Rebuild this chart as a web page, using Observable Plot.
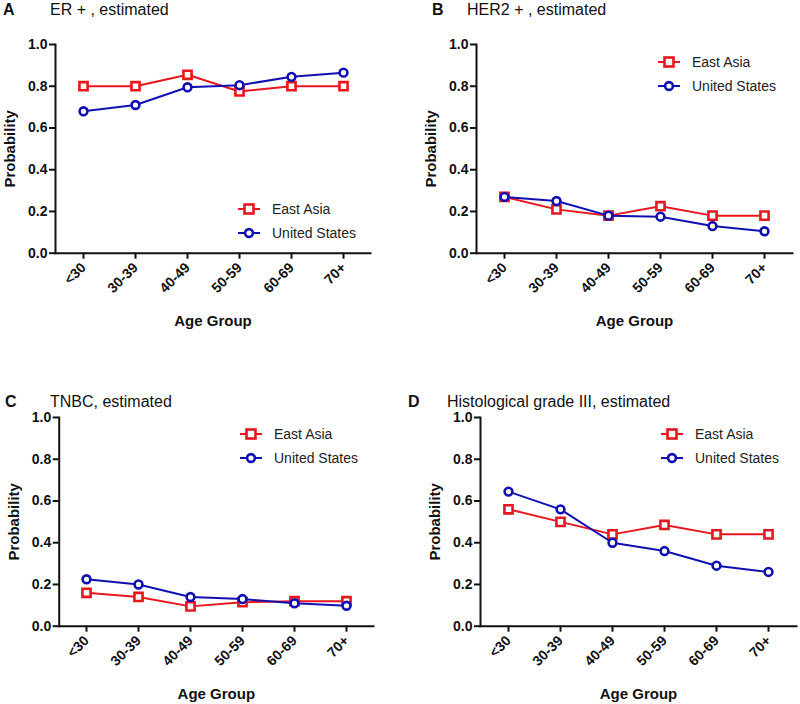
<!DOCTYPE html>
<html>
<head>
<meta charset="utf-8">
<script src="https://cdn.jsdelivr.net/npm/d3@7"></script>
<script src="https://cdn.jsdelivr.net/npm/@observablehq/plot@0.6"></script>
<style>
  html, body { margin:0; padding:0; background:#fff; }
  #fig { position:relative; width:800px; height:704px; overflow:hidden; font-family:"Liberation Sans", Arial, sans-serif; }
  .panel { position:absolute; }
  .title { position:absolute; font-size:16px; color:#111; white-space:nowrap; line-height:16px; }
  .title b { position:absolute; left:0; top:0; }
  .legend { position:absolute; font-size:14px; color:#222; }
  .legend .row { position:absolute; left:0; height:20px; white-space:nowrap; }
  .legend svg { position:absolute; left:0; top:0; }
  .legend span { position:absolute; top:2px; line-height:16px; }
  svg.panel text { font-size:14px !important; font-weight:bold !important; font-family:"Liberation Sans", Arial, sans-serif !important; }
  svg.panel g[aria-label="x-axis label"] text, svg.panel g[aria-label="y-axis label"] text { font-size:15px !important; }
</style>
</head>
<body>
<div id="fig"></div>
<script>
const ages = ["<30","30-39","40-49","50-59","60-69","70+"];
const seriesNames = ["East Asia","United States"];
const colors = ["#e8161d","#1010b2"];

const erEastAsia   = [0.80, 0.80, 0.855, 0.775, 0.80, 0.80];
const erUS         = [0.68, 0.71, 0.795, 0.805, 0.845, 0.865];
const her2EastAsia = [0.27, 0.21, 0.18, 0.225, 0.18, 0.18];
const her2US       = [0.27, 0.25, 0.18, 0.175, 0.13, 0.105];
const tnbcEastAsia = [0.16, 0.14, 0.095, 0.115, 0.12, 0.12];
const tnbcUS       = [0.225, 0.20, 0.14, 0.13, 0.11, 0.098];
const gradeEastAsia = [0.56, 0.50, 0.44, 0.485, 0.44, 0.44];
const gradeUS       = [0.645, 0.56, 0.40, 0.36, 0.29, 0.26];

const yTicks = [0, 0.2, 0.4, 0.6, 0.8, 1.0];

const panels = [
  {letter:"A", title:"ER + , estimated", ea:erEastAsia, us:erUS,
   left:0, top:0, height:340, ml:55, mr:30, titleX:3, titleTextX:50, titleY:2,
   legX:238, legY:199},
  {letter:"B", title:"HER2 + , estimated", ea:her2EastAsia, us:her2US,
   left:400, top:0, height:340, ml:76, mr:8, titleX:32, titleTextX:67, titleY:2,
   legX:258, legY:52},
  {letter:"C", title:"TNBC, estimated", ea:tnbcEastAsia, us:tnbcUS,
   left:0, top:373, height:331, ml:58.7, mr:27, titleX:5, titleTextX:50, titleY:394,
   legX:240, legY:424},
  {letter:"D", title:"Histological grade III, estimated", ea:gradeEastAsia, us:gradeUS,
   left:400, top:373, height:331, ml:80, mr:4, titleX:8, titleTextX:47, titleY:394,
   legX:261, legY:424}
];

const fig = document.getElementById("fig");

for (const p of panels) {
  const data = [];
  ages.forEach((a, i) => {
    data.push({age:a, value:p.ea[i], series:seriesNames[0]});
  });
  ages.forEach((a, i) => {
    data.push({age:a, value:p.us[i], series:seriesNames[1]});
  });
  const ea = data.filter(d => d.series === seriesNames[0]);
  const us = data.filter(d => d.series === seriesNames[1]);

  const chart = Plot.plot({
    width: 400,
    height: p.height,
    marginTop: 44,
    marginBottom: p.height - 252.7,
    marginLeft: p.ml,
    marginRight: p.mr,
    style: {fontFamily:"'Liberation Sans', Arial, sans-serif", fontSize:"14px", fontWeight:"bold", color:"#111", background:"transparent", overflow:"visible"},
    x: {type:"point", domain: ages, padding: 0.5},
    y: {domain:[0,1]},
    marks: [
      Plot.axisY({ticks: yTicks, tickFormat: d => d.toFixed(1), tickSize: 6, tickPadding: 2, strokeWidth: 2, fontSize: 14,
                  label: "Probability", labelAnchor: "center", labelArrow: "none", labelOffset: 51}),
      Plot.axisX({tickRotate: -45, tickSize: 6, tickPadding: 6, strokeWidth: 2, fontSize: 14,
                  label: "Age Group", labelAnchor: "center", labelArrow: "none", labelOffset: 73}),
      Plot.frame({anchor: "left", strokeWidth: 2, stroke: "#111"}),
      Plot.frame({anchor: "bottom", strokeWidth: 2, stroke: "#111"}),
      Plot.line(ea, {x:"age", y:"value", stroke: colors[0], strokeWidth: 2}),
      Plot.dot(ea, {x:"age", y:"value", symbol:"square", r:4.6, stroke: colors[0], strokeWidth: 2.6, fill:"white"}),
      Plot.line(us, {x:"age", y:"value", stroke: colors[1], strokeWidth: 2}),
      Plot.dot(us, {x:"age", y:"value", symbol:"circle", r:3.9, stroke: colors[1], strokeWidth: 2.6, fill:"white"})
    ]
  });
  chart.classList.add("panel");
  chart.style.left = p.left + "px";
  chart.style.top = p.top + "px";
  fig.appendChild(chart);

  // title
  const t = document.createElement("div");
  t.className = "title";
  t.style.left = (p.left + p.titleX) + "px";
  t.style.top = p.titleY + "px";
  t.innerHTML = `<b>${p.letter}</b><span style="position:absolute;left:${p.titleTextX - p.titleX}px;top:0">${p.title}</span>`;
  fig.appendChild(t);

  // legend
  const lg = document.createElement("div");
  lg.className = "legend";
  lg.style.left = (p.left + p.legX) + "px";
  lg.style.top = p.legY + "px";
  seriesNames.forEach((name, i) => {
    const row = document.createElement("div");
    row.className = "row";
    row.style.top = (i * 24) + "px";
    const marker = i === 0
      ? `<rect x="6.5" y="5.5" width="9" height="9" fill="white" stroke="${colors[0]}" stroke-width="2.6"/>`
      : `<circle cx="11" cy="10" r="3.9" fill="white" stroke="${colors[1]}" stroke-width="2.6"/>`;
    row.innerHTML = `<svg width="24" height="20"><line x1="0" x2="22" y1="10" y2="10" stroke="${colors[i]}" stroke-width="2"/>${marker}</svg><span style="left:34px">${name}</span>`;
    lg.appendChild(row);
  });
  fig.appendChild(lg);
}
</script>
</body>
</html>
